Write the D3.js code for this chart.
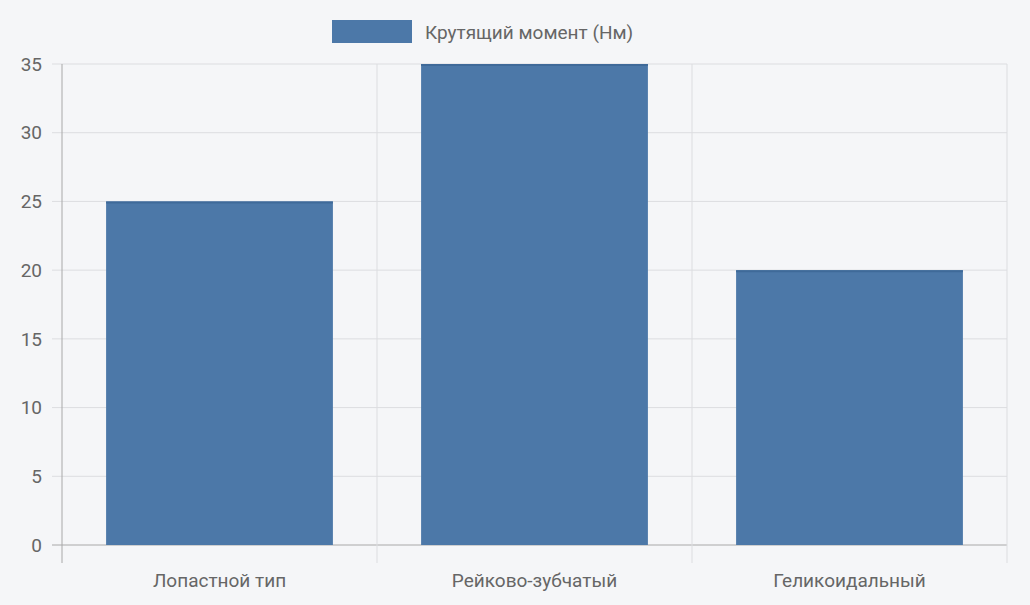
<!DOCTYPE html>
<html><head><meta charset="utf-8">
<script src="https://cdn.jsdelivr.net/npm/d3@7"></script>
<style>body{margin:0;background:#f5f6f8;}svg{display:block;font-family:Roboto,"Liberation Sans",sans-serif;}</style>
</head><body>
<svg id="c" width="1030" height="605"></svg>
<script>
const categories = ["Лопастной тип", "Рейково-зубчатый", "Геликоидальный"];
const values = [25, 35, 20];
const yTicks = [0, 5, 10, 15, 20, 25, 30, 35];
const seriesName = "Крутящий момент (Нм)";

const svg = d3.select("#c");
svg.append("rect").attr("width",1030).attr("height",605).attr("fill","#f5f6f8");
const L=62, R=1007, T=64, B=545;
const x = d3.scaleBand().domain(categories).range([L,R]).paddingInner(0).paddingOuter(0);
const y = d3.scaleLinear().domain([0,35]).range([B,T]);
const grid = "#dcdde0", axisC="#a8a8a8", txt="#666";

// horizontal grid
svg.selectAll(".hg").data(yTicks).enter().append("line")
  .attr("x1",L-10).attr("x2",R).attr("y1",d=>y(d)).attr("y2",d=>y(d))
  .attr("stroke",d=>d===0?axisC:grid).attr("stroke-width",1);
// vertical grid
const vx = categories.map(c=>x(c)).concat([R]);
svg.selectAll(".vg").data(vx).enter().append("line")
  .attr("x1",d=>d).attr("x2",d=>d).attr("y1",T).attr("y2",B+18)
  .attr("stroke",(d,i)=>i===0?axisC:grid);
// y labels
svg.selectAll(".yl").data(yTicks).enter().append("text")
  .attr("x",L-20).attr("y",d=>y(d)).attr("dy","0.35em").attr("text-anchor","end")
  .attr("fill",txt).attr("font-size",19).text(d=>d);
// bars
const bw = x.bandwidth()*0.72;
svg.selectAll(".bar").data(values).enter().append("rect")
  .attr("x",(d,i)=>x(categories[i])+(x.bandwidth()-bw)/2).attr("width",bw)
  .attr("y",d=>y(d)).attr("height",d=>B-y(d)).attr("fill","#4c78a8");
svg.selectAll(".bt").data(values).enter().append("line")
  .attr("x1",(d,i)=>x(categories[i])+(x.bandwidth()-bw)/2).attr("x2",(d,i)=>x(categories[i])+(x.bandwidth()+bw)/2)
  .attr("y1",d=>y(d)+1).attr("y2",d=>y(d)+1).attr("stroke","#3f6a99").attr("stroke-width",2);
// x labels
svg.selectAll(".xl").data(categories).enter().append("text")
  .attr("x",d=>x(d)+x.bandwidth()/2).attr("y",587).attr("text-anchor","middle")
  .attr("fill",txt).attr("font-size",19).text(d=>d);
// legend
svg.append("rect").attr("x",332).attr("y",20).attr("width",80).attr("height",23).attr("fill","#4c78a8");
svg.append("text").attr("x",425).attr("y",39).attr("fill",txt).attr("font-size",19).text(seriesName);
</script>
</body></html>
